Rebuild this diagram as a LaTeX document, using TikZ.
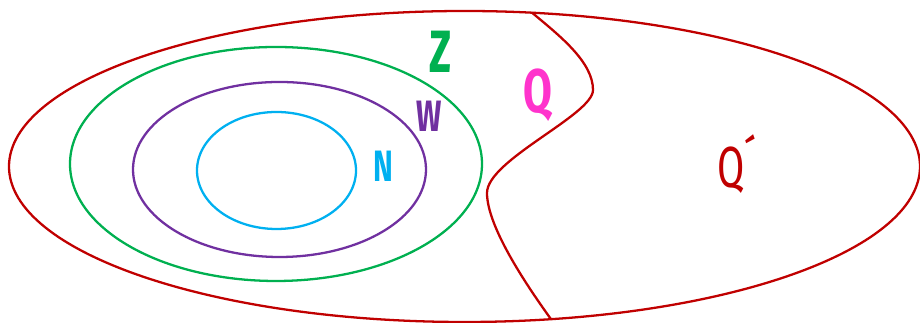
\documentclass[tikz,border=0pt]{standalone}
\usepackage{fontspec}
\newfontfamily\setfont{Fira Sans}
\definecolor{border}{HTML}{C00000}
\definecolor{zgreen}{HTML}{00B050}
\definecolor{wpurple}{HTML}{7030A0}
\definecolor{ncyan}{HTML}{00B0F0}
\definecolor{qpink}{HTML}{FF33CC}
\tikzset{
  setline/.style={line width=1.3pt},
  setlabel/.style={anchor=base,inner sep=0pt,xscale=0.68,
    font=\setfont\bfseries\fontsize{#1}{#1}\selectfont},
  setlabel/.default=34
}
\begin{document}
\begin{tikzpicture}[x=0.02cm,y=0.02cm]
  \useasboundingbox (0,0) rectangle (920,323);
  % nested sets
  \draw[setline,border] (464.5,156.5) ellipse [x radius=455.5,y radius=155.5];
  \draw[setline,zgreen] (276,159) ellipse [x radius=206,y radius=117];
  \draw[setline,wpurple] (279.5,153.5) ellipse [x radius=146.5,y radius=87.5];
  \draw[setline,ncyan] (276.5,152.5) ellipse [x radius=79.5,y radius=58.5];
  % split between Q and Q'
  \draw[setline,border] (532,310.3) .. controls (560,287) and (593,261) .. (593,233)
    .. controls (593,208) and (487,163) .. (487,130)
    .. controls (487,95) and (530,33) .. (551,3.8);
  % labels
  \node[setlabel=34,text=zgreen] (z) at (441,250) {Z};
  \node[setlabel=35,text=qpink] (q) at (538,210) {Q};
  \node[setlabel=25,text=wpurple] (w) at (429,191) {W};
  \node[setlabel=25,text=ncyan] (n) at (383,141) {N};
  \node[setlabel=33,text=border,font=\setfont\fontsize{33}{33}\selectfont] (qp) at (737,135) {Q´};
\end{tikzpicture}
\end{document}
